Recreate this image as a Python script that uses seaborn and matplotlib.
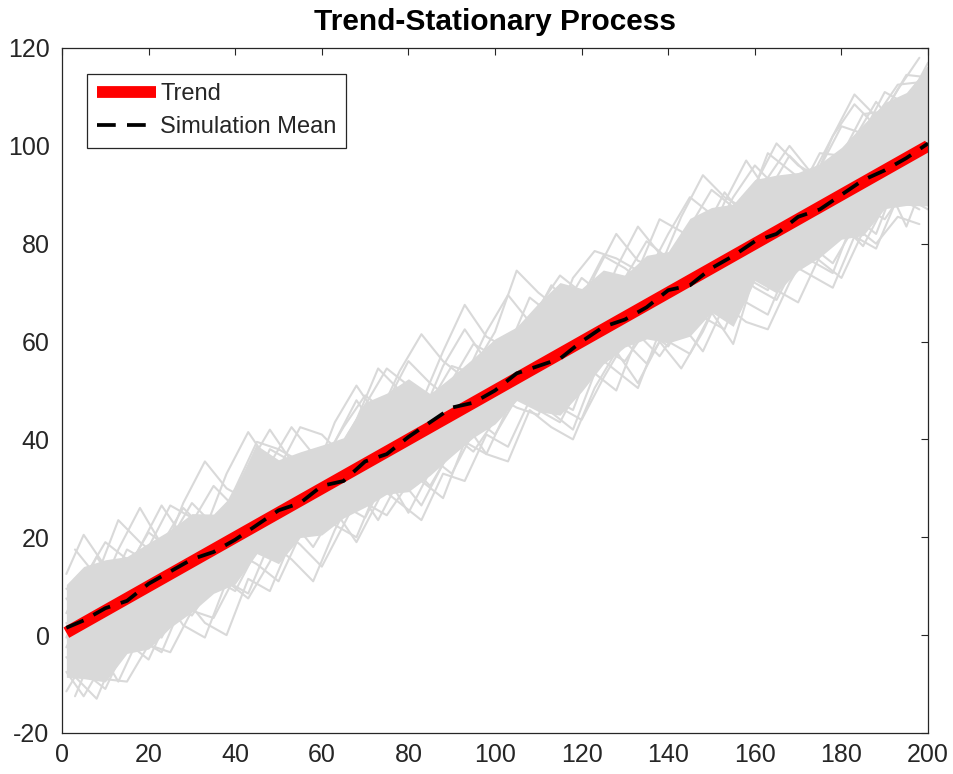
import pandas as pd
import seaborn as sns
import matplotlib.pyplot as plt

# time steps for the simulated paths (sampled every 5 steps)
t = [1] + list(range(5, 201, 5))
t_alt = list(range(3, 200, 5))

# simulated trend-stationary paths
path_1 = [12.5, 20.5, 14, 11.5, 8, 15.5, 23, 30.5, 26, 23.5, 21, 26.5, 35, 42.5, 49, 45.5, 43, 39.5, 47, 54.5,
          62, 74.5, 70, 66.5, 63, 60.5, 69, 76.5, 76, 83.5, 91, 87.5, 84, 81.5, 90, 98.5, 98, 106.5, 107, 114.5, 114]
path_2 = [-7.5, -12.5, -5, 2.5, 10, 6.5, 4, 10.5, 18, 25.5, 22, 18.5, 14, 22.5, 31, 38.5, 35, 30.5, 38, 45.5,
          54, 49.5, 46, 43.5, 52, 59.5, 67, 63.5, 60, 57.5, 66, 59.5, 74, 82.5, 80, 76.5, 73, 82.5, 91, 89.5, 87]
path_3 = [4.5, 11.5, 19, 15.5, 12, 19.5, 27, 22.5, 19, 26.5, 34, 42.5, 41, 36.5, 33, 30.5, 39, 47.5, 55, 53.5,
          51, 48.5, 57, 65.5, 73, 69.5, 66, 73.5, 82, 89.5, 86, 82.5, 79, 86.5, 94, 90.5, 87, 94.5, 102, 109.5, 116]
path_4 = [-2.5, 4.5, 1, -1.5, -5, 4.5, 13, 11.5, 9, 17.5, 26, 33.5, 32, 29.5, 27, 24.5, 31, 38.5, 48, 55.5,
          54, 50.5, 48, 45.5, 54, 62.5, 70, 66.5, 64, 70.5, 79, 74.5, 71, 68.5, 77, 84.5, 92, 87.5, 85, 91.5, 88]
path_5 = [7.5, 3.5, 0, 9.5, 18, 26.5, 24, 20.5, 29, 38.5, 35, 31.5, 28, 35.5, 43, 39.5, 36, 43.5, 52, 59.5,
          57, 54.5, 63, 71.5, 69, 77.5, 75, 71.5, 69, 77.5, 85, 83.5, 92, 100.5, 96, 93.5, 91, 99.5, 108, 106.5, 106]
path_6 = [-11.5, -5.5, -9, -9.5, -2, -3.5, 5, 3.5, 12, 19.5, 16, 22.5, 30, 26.5, 24, 32.5, 25, 33.5, 41, 37.5,
          44, 51.5, 50, 46.5, 44, 52.5, 60, 55.5, 63, 70.5, 67, 64.5, 73, 70.5, 68, 77.5, 84, 79.5, 88, 94.5, 91]
path_7 = [2.5, -1.5, 8, 17.5, 15, 11.5, 9, 17.5, 27, 34.5, 30, 26.5, 23, 30.5, 39, 47.5, 56, 51.5, 48, 44.5,
          41, 48.5, 57, 55.5, 65, 73.5, 72, 68.5, 65, 62.5, 71, 79.5, 88, 85.5, 82, 88.5, 97, 103.5, 99, 96.5, 103]
path_8 = [-4.5, -7.5, -11, -1.5, 7, 3.5, 11, 19.5, 17, 14.5, 11, 20.5, 28, 24.5, 33, 40.5, 38, 36.5, 33, 41.5,
          49, 46.5, 45, 53.5, 61, 58.5, 56, 62.5, 59, 66.5, 74, 80.5, 78, 75.5, 83, 91.5, 89, 86.5, 93, 83.5, 95]
path_9 = [9.5, 7.5, 6, 13.5, 21, 17.5, 15, 21.5, 30, 39.5, 38, 35.5, 33, 39.5, 47, 54.5, 51, 48.5, 45, 52.5,
          60, 58.5, 67, 73.5, 70, 66.5, 73, 80.5, 77, 74.5, 81, 89.5, 96, 91.5, 89, 95.5, 104, 102.5, 111, 108.5, 117]
path_10 = [-0.5, 7.5, 5, 2.5, 11, 18.5, 16, 13.5, 11, 19.5, 27, 24.5, 38, 34.5, 32, 39.5, 47, 43.5, 41, 47.5,
           45, 54.5, 53, 61.5, 60, 56.5, 64, 72.5, 71, 68.5, 66, 74.5, 82, 89.5, 86, 83.5, 92, 90.5, 98, 102.5, 99]
paths = [path_1, path_2, path_3, path_4, path_5, path_6, path_7, path_8, path_9, path_10]

# spikier paths near the edges of the band (offset time steps)
edge_1 = [17.5, 12, 23.5, 19, 15.5, 27, 35.5, 30, 27.5, 38, 35.5, 32, 43.5, 51, 44.5, 54, 61.5, 56, 52.5, 62,
          69.5, 64, 61.5, 73, 78.5, 77, 74.5, 85, 82.5, 78, 88.5, 97, 90.5, 98, 93.5, 102, 108.5, 104, 111.5, 118]
edge_2 = [-12.5, -2, -9.5, 0, 8.5, 2, -0.5, 11, 8.5, 19, 15.5, 11, 21.5, 30, 23.5, 32, 26.5, 35, 43.5, 37,
          35.5, 46, 42.5, 40, 50.5, 58, 51.5, 60, 54.5, 62, 71.5, 68, 65.5, 76, 73.5, 71, 81.5, 79, 89.5, 87]
edge_3 = [6.5, 16, 9.5, 18, 26.5, 20, 14.5, 26, 34.5, 42, 35.5, 31, 39.5, 48, 41.5, 49, 44.5, 55, 62.5, 56,
          51.5, 63, 71.5, 67, 64.5, 75, 83.5, 78, 73.5, 82, 90.5, 85, 93.5, 100, 94.5, 92, 101.5, 109, 103.5, 111]
edge_4 = [-4.5, -9, 2.5, -1, -3.5, 7, 17.5, 11, 7.5, 15, 23.5, 18, 25.5, 19, 27.5, 37, 31.5, 28, 39.5, 37,
          46.5, 55, 48.5, 46, 57.5, 54, 50.5, 62, 70.5, 65, 62.5, 73, 70.5, 80, 76.5, 74, 85.5, 82, 93.5, 90]
edge_5 = [11.5, 7, 17.5, 26, 18.5, 26, 21.5, 33, 41.5, 35, 42.5, 37, 33.5, 44, 54.5, 50, 47.5, 58, 67.5, 61,
          58.5, 69, 65.5, 62, 73.5, 82, 76.5, 75, 85.5, 94, 89.5, 87, 98.5, 95, 91.5, 102, 110.5, 106, 112.5, 113]
edge_6 = [-8.5, -13, -2.5, 5, -0.5, 8, 2.5, 0, 11.5, 9, 19.5, 28, 22.5, 20, 30.5, 27, 23.5, 33, 31.5, 41,
          38.5, 48, 45.5, 42, 53.5, 50, 61.5, 57, 63.5, 58, 67.5, 64, 62.5, 72, 79.5, 76, 83.5, 80, 85.5, 84]
edges = [edge_1, edge_2, edge_3, edge_4, edge_5, edge_6]

# deterministic trend
trend_t = [1, 200]
trend_y = [0.5, 100]

# mean across simulations
sim_mean = [1.5, 3.0, 5.5, 7.0, 10.5, 13.0, 15.5, 17.0, 19.5, 22.5, 25.5, 27.0, 30.5, 31.5, 35.5, 37.0, 40.5,
            43.5, 46.5, 47.5, 50.0, 53.5, 55.0, 56.5, 60.0, 63.0, 64.5, 67.0, 70.5, 71.5, 75.0, 77.5, 80.5,
            82.0, 85.5, 87.0, 90.0, 93.0, 95.0, 97.5, 100.5]

# long-form tables of the simulations
sims = pd.DataFrame({
    't': t * len(paths),
    'y': [v for p in paths for v in p],
    'path': [i for i, p in enumerate(paths) for _ in p]})
sims_edge = pd.DataFrame({
    't': t_alt * len(edges),
    'y': [v for p in edges for v in p],
    'path': [i for i, p in enumerate(edges) for _ in p]})

sns.set_style('white')
plt.rcParams['font.family'] = ['Liberation Sans', 'DejaVu Sans']
plt.rcParams['axes.unicode_minus'] = False
grey = '#d9d9d9'
dark = '#262626'

fig = plt.figure(figsize=(9.54, 7.74), dpi=100)
ax = fig.add_axes([0.065, 0.053, 0.9078, 0.885])

# dense core of the simulation band
sns.lineplot(data=sims, x='t', y='y', estimator='median', errorbar=('pi', 84),
             linewidth=0, color=grey, err_kws={'alpha': 1, 'linewidth': 0}, ax=ax)
# individual simulated paths
sns.lineplot(data=sims, x='t', y='y', units='path', estimator=None,
             color=grey, linewidth=1.5, ax=ax)
sns.lineplot(data=sims_edge, x='t', y='y', units='path', estimator=None,
             color=grey, linewidth=1.5, ax=ax)
# trend and simulation mean
sns.lineplot(x=trend_t, y=trend_y, color='red', linewidth=8.5,
             solid_capstyle='butt', label='Trend', ax=ax)
sns.lineplot(x=t, y=sim_mean, color='black', linewidth=2.7, dashes=False,
             label='Simulation Mean', ax=ax)
ax.lines[-1].set_dashes((5, 3))

ax.set_xlim(0, 200)
ax.set_ylim(-20, 120)
ax.set_xticks(range(0, 201, 20))
ax.set_yticks(range(-20, 121, 20))
ax.set_xlabel('')
ax.set_ylabel('')
ax.tick_params(direction='in', length=5, width=0.8, colors=dark, labelsize=18,
               top=True, right=True, pad=9)
ax.tick_params(axis='x', pad=7)
for s in ax.spines.values():
    s.set_color(dark)
    s.set_linewidth(0.9)

ax.set_title('Trend-Stationary Process', fontsize=21.5, fontweight='bold', pad=13, color='black')

leg = ax.legend(loc='upper left', bbox_to_anchor=(0.029, 0.962), borderaxespad=0,
                fontsize=17, handlelength=2.5, handletextpad=0.2, fancybox=False,
                framealpha=1, edgecolor=dark, borderpad=0.4, labelspacing=0.45)
leg.get_frame().set_linewidth(0.9)
for txt in leg.get_texts():
    txt.set_color(dark)
leg.get_lines()[1].set_dashes((5, 3))

plt.savefig('out.png', dpi=100)
